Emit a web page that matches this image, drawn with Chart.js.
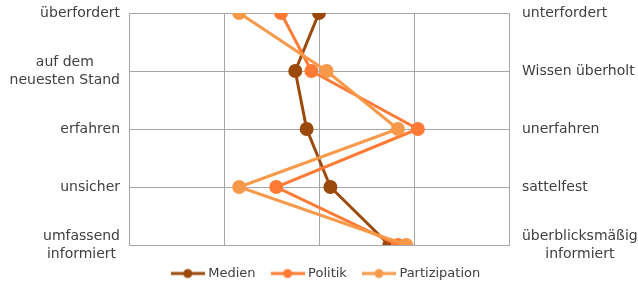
<!DOCTYPE html>
<html><head><meta charset="utf-8">
<script src="https://cdn.jsdelivr.net/npm/chart.js@4"></script>
<style>html,body{margin:0;padding:0;background:#fff}#w{width:638px;height:281px}</style>
</head><body><div id="w"><canvas id="c"></canvas></div>
<script>
const leftLabels = [["überfordert"], ["auf dem", "neuesten Stand"], ["erfahren"], ["unsicher"], ["umfassend", "informiert"]];
const rightLabels = [["unterfordert"], ["Wissen überholt"], ["unerfahren"], ["sattelfest"], ["überblicksmäßig", "informiert"]];
const seriesNames = ["Medien", "Politik", "Partizipation"];
const medien = [3.0, 2.75, 2.87, 3.12, 3.74];
const politik = [2.6, 2.92, 4.04, 2.55, 3.83];
const partizipation = [2.16, 3.08, 3.83, 2.16, 3.92];
const colors = ["#9C4A0C", "#FF7A35", "#F8994A"];

const FONT = "'DejaVu Sans', sans-serif";
const TXT = "#404040";

function legendIcon(color) {
  const c = document.createElement('canvas');
  c.width = 34; c.height = 12;
  const g = c.getContext('2d');
  g.strokeStyle = color; g.lineWidth = 3;
  g.beginPath(); g.moveTo(0, 6); g.lineTo(34, 6); g.stroke();
  g.fillStyle = color; g.beginPath(); g.arc(17, 6, 4.5, 0, Math.PI * 2); g.fill();
  return c;
}

const allSeries = [medien, politik, partizipation];
const datasets = allSeries.map((arr, i) => ({
  label: seriesNames[i],
  data: arr.map((v, j) => ({x: v, y: j})),
  borderColor: colors[i],
  backgroundColor: colors[i],
  borderWidth: 3,
  pointRadius: 7,
  pointHoverRadius: 7,
  pointBorderWidth: 0,
  order: 3 - i,
  showLine: true,
  tension: 0
}));

const sideLabels = {
  id: 'sideLabels',
  afterLayout(chart) {
    const lg = chart.legend;
    if (lg) { lg.top += 4; lg.bottom += 4; lg.left += 8; lg.right += 8; }
  },
  afterDraw(chart) {
    const ctx = chart.ctx;
    const ys = chart.scales.y;
    const area = chart.chartArea;
    ctx.save();
    ctx.font = "14px " + FONT;
    ctx.fillStyle = TXT;
    ctx.textBaseline = 'middle';
    const lh = 18;
    const draw = (lines, anchorX, side, yv) => {
      const w = Math.max(...lines.map(l => ctx.measureText(l).width));
      const cx = side === 'left' ? anchorX - w / 2 : anchorX + w / 2;
      const y0 = ys.getPixelForValue(yv) - (lines.length - 1) * lh / 2;
      ctx.textAlign = 'center';
      lines.forEach((l, k) => ctx.fillText(l, cx, y0 + k * lh));
    };
    leftLabels.forEach((lines, i) => draw(lines, area.left - 9, 'left', i));
    rightLabels.forEach((lines, i) => draw(lines, area.right + 13, 'right', i));
    ctx.restore();
  }
};

new Chart(document.getElementById('c'), {
  type: 'scatter',
  data: {datasets},
  options: {
    responsive: true,
    maintainAspectRatio: false,
    animation: false,
    layout: {padding: {top: 13, bottom: -5, left: 0, right: 0}},
    scales: {
      x: {
        type: 'linear', min: 1, max: 5,
        ticks: {display: false, stepSize: 1},
        grid: {color: '#A6A6A6', lineWidth: 1, drawTicks: false},
        border: {display: true, color: '#A6A6A6'}
      },
      y: {
        type: 'linear', min: 0, max: 4, reverse: true,
        ticks: {display: false, stepSize: 1},
        grid: {color: '#A6A6A6', lineWidth: 1, drawTicks: false},
        border: {display: true, color: '#A6A6A6'},
        afterFit(s) { s.width = 129; }
      },
      y2: {
        type: 'linear', position: 'right', min: 0, max: 4, reverse: true,
        ticks: {display: false},
        grid: {display: false, drawTicks: false},
        border: {display: false},
        afterFit(s) { s.width = 129; }
      }
    },
    plugins: {
      tooltip: {enabled: false},
      legend: {
        position: 'bottom',
        labels: {
          usePointStyle: true,
          pointStyleWidth: 28,
          padding: 18,
          color: TXT,
          font: {family: FONT, size: 13},
          generateLabels(chart) {
            return chart.data.datasets.map((d, i) => ({
              text: d.label,
              fillStyle: d.borderColor,
              strokeStyle: d.borderColor,
              lineWidth: 0,
              pointStyle: legendIcon(colors[i]),
              datasetIndex: i,
              hidden: false,
              fontColor: TXT
            }));
          }
        }
      }
    }
  },
  plugins: [sideLabels]
});
</script>
</body></html>
